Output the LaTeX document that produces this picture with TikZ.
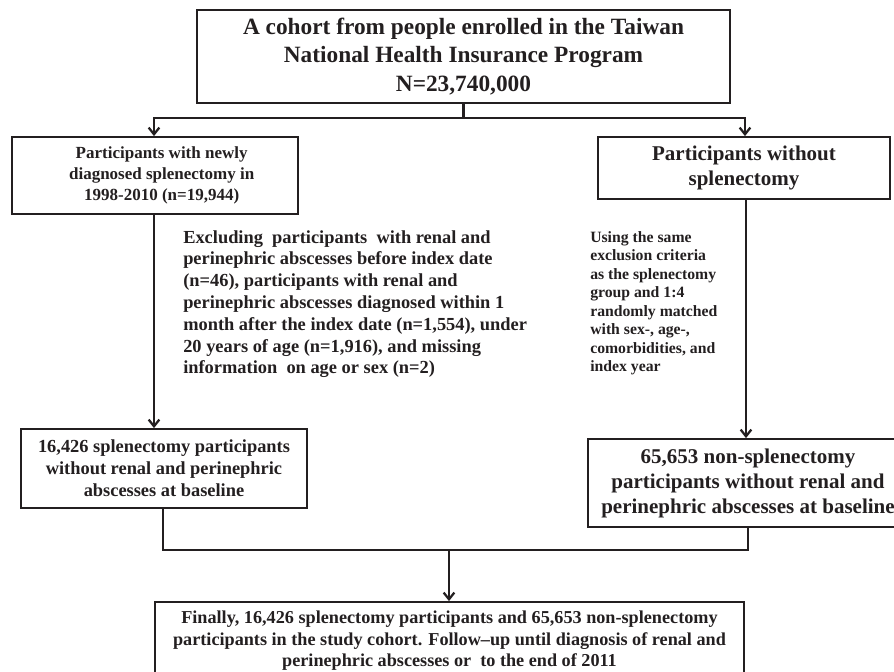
\documentclass[tikz,border=0pt]{standalone}
\usepackage{fontspec}
\setmainfont{Liberation Serif}
\usetikzlibrary{arrows.meta}
\definecolor{ink}{HTML}{231F20}
\begin{document}
\begin{tikzpicture}[x=0.75pt,y=-0.75pt,
  box/.style={draw=ink, line width=1.4pt, align=center, inner sep=0pt, text=ink, font=\bfseries},
  conn/.style={draw=ink, line width=1.7pt},
  thin/.style={draw=ink, line width=1.2pt},
  arr/.style={conn, -{Straight Barb[length=5pt,width=8pt]}},
  note/.style={align=left, inner sep=0pt, text=ink, anchor=north west}]
\useasboundingbox (0,0) rectangle (894,672);

\node[box, minimum width=399.75pt, minimum height=69.75pt,
  font=\bfseries\fontsize{17.5}{21.4}\selectfont] (top) at (463.5,56.5)
  {A cohort from people enrolled in the Taiwan\\National Health Insurance Program\\N=23,740,000};

\node[box, minimum width=214.5pt, minimum height=57.75pt,
  font=\bfseries\fontsize{12.75}{15.75}\selectfont] (lbox) at (155,175.5)
  {\hspace*{10pt}Participants with newly\\\hspace*{10pt}diagnosed splenectomy in\\\hspace*{10pt}1998-2010 (n=19,944)};

\node[box, minimum width=219pt, minimum height=46.5pt,
  font=\bfseries\fontsize{15.75}{18.75}\selectfont] (rbox) at (744,168)
  {Participants without\\splenectomy};

\node[box, minimum width=214.5pt, minimum height=59.25pt,
  font=\bfseries\fontsize{13.8}{16.5}\selectfont] (llbox) at (164,468.5)
  {16,426 splenectomy participants\\without renal and perinephric\\abscesses at baseline};

\node[box, minimum width=240pt, minimum height=66pt,
  font=\bfseries\fontsize{15.75}{18.75}\selectfont] (rlbox) at (748,483)
  {65,653 non-splenectomy\\participants without renal and\\perinephric abscesses at baseline};

\node[box, minimum width=441.75pt, minimum height=58.5pt,
  font=\bfseries\fontsize{13.65}{16.1}\selectfont] (fin) at (449.5,641)
  {Finally, 16,426 splenectomy participants and 65,653 non-splenectomy\\participants in the study cohort. Follow--up until diagnosis of renal and\\perinephric abscesses or~ to the end of 2011};

\node[note, font=\bfseries\fontsize{13.8}{16.35}\selectfont] (excl) at (183,230)
  {Excluding~ participants~ with renal and\\perinephric abscesses before index date\\(n=46), participants with renal and\\perinephric abscesses diagnosed within 1\\month after the index date (n=1,554), under\\20 years of age (n=1,916), and missing\\information~ on age or sex (n=2)};

\node[note, font=\bfseries\fontsize{11.8}{13.9}\selectfont] (match) at (590,231)
  {Using the same\\exclusion criteria\\as the splenectomy\\group and 1:4\\randomly matched\\with sex-, age-,\\comorbidities, and\\index year};

\coordinate (split) at (463.5,118);
\coordinate (sl) at (154,118);
\coordinate (sr) at (745,118);
\draw[conn] (top.south -| split) -- (split);
\draw[conn, line cap=rect] (sl) -- (sr);
\draw[arr] (sl) -- (sl |- lbox.north);
\draw[arr] (sr) -- (sr |- rbox.north);

\coordinate (ld) at (154,214);
\draw[arr] (ld) -- (ld |- llbox.north);
\coordinate (rd) at (746,199);
\draw[arr] (rd) -- (rd |- rlbox.north);

\coordinate (jl) at (163,550);
\coordinate (jr) at (748,550);
\coordinate (jm) at (449,550);
\draw[thin] (jl |- llbox.south) -- (jl) -- (jr) -- (jr |- rlbox.south);
\draw[arr] (jm) -- (jm |- fin.north);
\end{tikzpicture}
\end{document}
